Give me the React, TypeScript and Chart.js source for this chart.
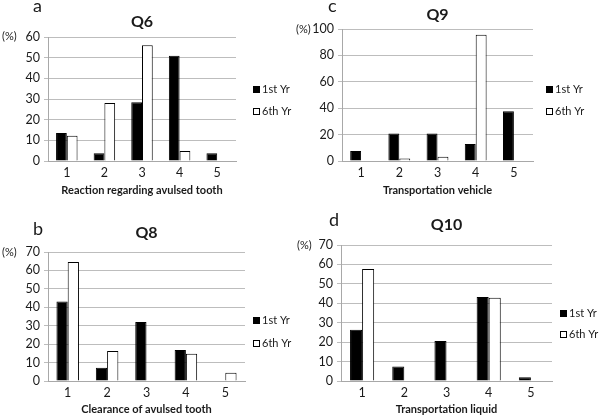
import React, { useEffect, useRef } from "react";
import { Chart, registerables } from "chart.js";

Chart.register(...registerables);

// ---------- data ----------
const categories = ["1", "2", "3", "4", "5"];
const seriesNames = ["1st Yr", "6th Yr"];

const q6First = [13.5, 3.8, 28.4, 50.9, 3.8];
const q6Sixth = [12.2, 28.1, 56, 4.8, 0];

const q8First = [43.2, 7.2, 32, 16.8, 0];
const q8Sixth = [64.6, 16.3, 0, 14.8, 4.5];

const q9First = [7.6, 20.8, 20.8, 12.9, 37.7];
const q9Sixth = [0, 1.8, 3.3, 95.7, 0];

const q10First = [26.4, 7.4, 20.6, 43.2, 1.9];
const q10Sixth = [57.6, 0, 0, 42.9, 0];

const panelTitles = ["Q6", "Q8", "Q9", "Q10"];
const panelLetters = ["a", "b", "c", "d"];
const xTitles = [
  "Reaction regarding avulsed tooth",
  "Clearance of avulsed tooth",
  "Transportation vehicle",
  "Transportation liquid",
];
const yMaxes = [60, 70, 100, 70];
const ySteps = [10, 10, 20, 10];
const yUnit = "(%)";

// ---------- style ----------
const FONT = "Lato, 'Open Sans', sans-serif";
const TEXT = "#1a1a1a";
const GRID = "#bdbdbd";
const AXIS = "#a8a8a8";
const W = 300;
const H = 208;

type Panel = {
  first: number[];
  sixth: number[];
  idx: number;
  left: number;
  top: number;
  area: { left: number; right: number; top: number; bottom: number };
  titleY: number;
  xTitlePad: number;
  legend: { x: number; y: number; gap: number };
  letterPos: { x: number; y: number };
  unitPos: { x: number; y: number };
};

const panels: Panel[] = [
  {
    first: q6First, sixth: q6Sixth, idx: 0, left: 0, top: 0,
    area: { left: 48, right: 236, top: 37, bottom: 161 },
    titleY: 22, xTitlePad: 11,
    legend: { x: 253, y: 89.5, gap: 21.5 },
    letterPos: { x: 33, y: -4 },
    unitPos: { x: 2, y: 29.5 },
  },
  {
    first: q8First, sixth: q8Sixth, idx: 1, left: 0, top: 208,
    area: { left: 48, right: 245, top: 44, bottom: 173 },
    titleY: 25, xTitlePad: 0,
    legend: { x: 253, y: 112.7, gap: 22.3 },
    letterPos: { x: 33, y: 218.7 },
    unitPos: { x: 2, y: 246 },
  },
  {
    first: q9First, sixth: q9Sixth, idx: 2, left: 300, top: 0,
    area: { left: 42, right: 233, top: 29, bottom: 161 },
    titleY: 15, xTitlePad: 11,
    legend: { x: 245.5, y: 89.5, gap: 22 },
    letterPos: { x: 328, y: -4 },
    unitPos: { x: 296, y: 23 },
  },
  {
    first: q10First, sixth: q10Sixth, idx: 3, left: 300, top: 208,
    area: { left: 41, right: 252, top: 37, bottom: 173 },
    titleY: 17, xTitlePad: 0,
    legend: { x: 260, y: 105, gap: 21.7 },
    letterPos: { x: 329, y: 210.3 },
    unitPos: { x: 297, y: 239 },
  },
];

const sideLegend = {
  id: "sideLegend",
  afterDraw(chart: any, _args: any, opts: any) {
    if (!opts || opts.x == null) return;
    const ctx = chart.ctx;
    ctx.save();
    ctx.font = `${opts.fontSize}px ${FONT}`;
    ctx.textBaseline = "middle";
    ctx.textAlign = "left";
    chart.data.datasets.forEach((ds: any, i: number) => {
      const cy = opts.y + i * opts.gap;
      const s = opts.box;
      const bx = Math.round(opts.x);
      const by = Math.round(cy - s / 2);
      ctx.fillStyle = ds.backgroundColor;
      ctx.fillRect(bx, by, s, s);
      ctx.strokeStyle = ds.borderColor;
      ctx.lineWidth = 1;
      ctx.strokeRect(bx + 0.5, by + 0.5, s - 1, s - 1);
      ctx.fillStyle = TEXT;
      ctx.fillText(ds.label, bx + s + 2, cy);
    });
    ctx.restore();
  },
};

function PanelChart({ p }: { p: Panel }) {
  const ref = useRef<HTMLCanvasElement>(null);
  useEffect(() => {
    if (!ref.current) return;
    const i = p.idx;
    const chart = new Chart(ref.current, {
      type: "bar",
      data: {
        labels: categories,
        datasets: [
          {
            label: seriesNames[0],
            data: p.first,
            backgroundColor: "#000000",
            borderColor: "#000000",
            borderWidth: 1,
          },
          {
            label: seriesNames[1],
            data: p.sixth,
            backgroundColor: "#ffffff",
            borderColor: "#000000",
            borderWidth: 1,
          },
        ],
      },
      options: {
        animation: false,
        responsive: false,
        maintainAspectRatio: false,
        datasets: { bar: { categoryPercentage: 2 / 3.5, barPercentage: 1 } },
        layout: { padding: { left: 0, top: 0, bottom: 0, right: W - p.area.right } },
        plugins: {
          legend: { display: false },
          tooltip: { enabled: false },
          title: {
            display: true,
            text: panelTitles[i],
            fullSize: false,
            color: TEXT,
            font: { family: FONT, size: 16, weight: "bold", lineHeight: 1 },
            padding: { top: p.titleY - 8, bottom: p.area.top - (p.titleY + 8) },
          },
          sideLegend: { x: p.legend.x, y: p.legend.y, gap: p.legend.gap, box: 7, fontSize: 11 },
        } as any,
        scales: {
          x: {
            grid: { display: false, drawTicks: false, tickLength: 0 },
            border: { display: true, color: AXIS },
            ticks: { color: TEXT, font: { family: FONT, size: 12.5 }, padding: 4.5 },
            title: {
              display: true,
              text: xTitles[i],
              color: TEXT,
              font: { family: FONT, size: 11, weight: "bold", lineHeight: 1.2 },
              padding: { top: 0, bottom: p.xTitlePad },
            },
            afterFit: (s: any) => {
              s.height = H - p.area.bottom;
            },
          },
          y: {
            min: 0,
            max: yMaxes[i],
            ticks: {
              stepSize: ySteps[i],
              color: TEXT,
              font: { family: FONT, size: 12.5 },
              padding: 4,
            },
            grid: { color: GRID, tickLength: 4, drawTicks: true, tickColor: GRID },
            border: { display: true, color: AXIS },
            afterFit: (s: any) => {
              s.width = p.area.left;
            },
          },
        },
      } as any,
      plugins: [sideLegend as any],
    });
    return () => chart.destroy();
  }, []);
  return (
    <canvas
      ref={ref}
      width={W}
      height={H}
      style={{ position: "absolute", left: p.left, top: p.top, width: W, height: H }}
    />
  );
}

export default function App() {
  return (
    <div
      style={{
        position: "absolute",
        left: 0,
        top: 0,
        width: 600,
        height: 416,
        background: "#ffffff",
        overflow: "hidden",
        fontFamily: FONT,
        color: TEXT,
      }}
    >
      {panels.map((p) => (
        <PanelChart key={p.idx} p={p} />
      ))}
      {panels.map((p) => (
        <div
          key={"l" + p.idx}
          style={{
            position: "absolute",
            left: p.letterPos.x,
            top: p.letterPos.y,
            fontSize: 18,
            lineHeight: "18px",
            whiteSpace: "nowrap",
          }}
        >
          {panelLetters[p.idx]}
        </div>
      ))}
      {panels.map((p) => (
        <div
          key={"u" + p.idx}
          style={{
            position: "absolute",
            left: p.unitPos.x,
            top: p.unitPos.y,
            fontSize: 11,
            lineHeight: "11px",
            whiteSpace: "nowrap",
            zIndex: 2,
          }}
        >
          {yUnit}
        </div>
      ))}
    </div>
  );
}
